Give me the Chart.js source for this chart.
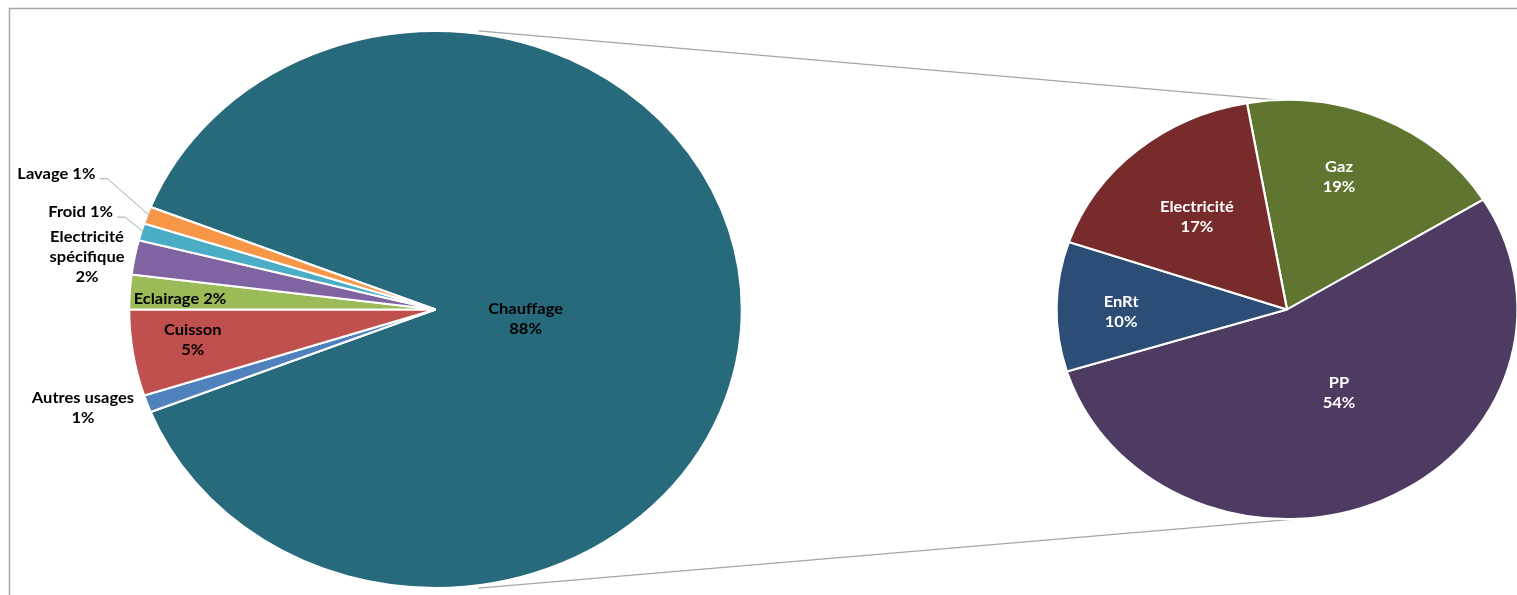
<!DOCTYPE html>
<html>
<head>
<meta charset="utf-8">
<script src="https://cdn.jsdelivr.net/npm/chart.js@4.4.1/dist/chart.umd.min.js"></script>
<style>
  html, body { margin: 0; padding: 0; background: #fff; overflow: hidden; }
  #wrap { position: relative; width: 1517px; height: 595px; overflow: hidden; }
  canvas { position: absolute; top: 0; }
</style>
</head>
<body>
<div id="wrap">
  <canvas id="bg" width="1517" height="595" style="left:0"></canvas>
  <canvas id="usages" width="871" height="595" style="left:0"></canvas>
  <canvas id="energies" width="494" height="595" style="left:1040px"></canvas>
</div>
<script>
// Données du graphique (camembert principal : usages)
const usageLabels = ['Chauffage', 'Autres usages', 'Cuisson', 'Eclairage', 'Electricité spécifique', 'Froid', 'Lavage'];
const usageValues = [88, 1, 5, 2, 2, 1, 1];
const usageColors = ['#276A7B', '#4F81BD', '#C0504D', '#9BBB59', '#8064A2', '#4BACC6', '#F79646'];

// Second camembert : énergies du chauffage
const energyLabels = ['Gaz', 'PP', 'EnRt', 'Electricité'];
const energyValues = [19, 54, 10, 17];
const energyColors = ['#607630', '#4E3B62', '#2C4D75', '#772B2A'];

// L'image d'origine est étirée horizontalement
const STRETCH = 1.1;
const FONT = 'bold 15px Lato, "Open Sans", sans-serif';
const LINE_H = 20;

// Placement des étiquettes : rayon relatif et décalage d'angle (degrés)
const usageLabelLayout = [
  { r: 0.296, da: 6.6, stack: true },
  { r: 1.204, da: 2.7, stack: true },
  { r: 0.80, da: 1.2, stack: true },
  { r: 0.835, da: -1.0, stack: false },
  { r: 1.153, da: -1.4, stack: true, wrap: true },
  { r: 1.21, da: 0.6, stack: false, leader: true },
  { r: 1.33, da: 1.7, stack: false, leader: true }
];
const energyLabelLayout = [
  { r: 0.67, da: -4.5, stack: true },
  { r: 0.46, da: -5.0, stack: true },
  { r: 0.72, da: -1.9, stack: true },
  { r: 0.59, da: -0.9, stack: true }
];

function labelLines(name, pct, lay) {
  const parts = lay.wrap ? name.split(' ') : [name];
  if (lay.stack) return parts.concat([pct]);
  return [parts.join(' ') + ' ' + pct];
}

// Plugin : étire les secteurs en ellipse puis écrit les étiquettes
const ellipsePlugin = {
  id: 'ellipseLabels',
  beforeDatasetsDraw(chart) {
    const el = chart.getDatasetMeta(0).data[0];
    const ctx = chart.ctx;
    ctx.save();
    ctx.translate(el.x, el.y);
    ctx.scale(STRETCH, 1);
    ctx.translate(-el.x, -el.y);
  },
  afterDatasetsDraw(chart, args, opts) {
    const ctx = chart.ctx;
    ctx.restore();
    const meta = chart.getDatasetMeta(0);
    const values = chart.data.datasets[0].data;
    const total = values.reduce((a, b) => a + b, 0);
    ctx.save();
    ctx.font = FONT;
    ctx.textAlign = 'center';
    ctx.textBaseline = 'middle';
    meta.data.forEach((arc, i) => {
      const lay = opts.layout[i];
      const R = arc.outerRadius;
      const mid = (arc.startAngle + arc.endAngle) / 2;
      const a = mid + lay.da * Math.PI / 180;
      const px = arc.x + STRETCH * lay.r * R * Math.cos(a);
      const py = arc.y + lay.r * R * Math.sin(a);
      const pct = Math.round(values[i] / total * 100) + '%';
      const lines = labelLines(chart.data.labels[i], pct, lay);
      ctx.fillStyle = opts.color;
      lines.forEach((line, k) => {
        const ly = py + (k - (lines.length - 1) / 2) * LINE_H;
        ctx.save();
        ctx.translate(px, ly);
        ctx.scale(STRETCH, 1);
        ctx.fillText(line, 0, 0);
        ctx.restore();
      });
      if (lay.leader) {
        const w = ctx.measureText(lines[0]).width * STRETCH;
        const sx = px + w / 2 + 4;
        const sy = py + 5;
        const ex = arc.x + STRETCH * 0.99 * R * Math.cos(mid);
        const ey = arc.y + 0.99 * R * Math.sin(mid);
        ctx.strokeStyle = '#A6A6A6';
        ctx.lineWidth = 1;
        ctx.beginPath();
        ctx.moveTo(sx, sy);
        ctx.lineTo(sx + 8, sy);
        ctx.lineTo(ex, ey);
        ctx.stroke();
      }
    });
    ctx.restore();
  }
};

function pieOptions(rotation, radius, layout, color) {
  return {
    responsive: false,
    animation: false,
    events: [],
    rotation: rotation,
    radius: radius,
    layout: { padding: { top: 24, bottom: 0, left: 0, right: 0 } },
    plugins: {
      legend: { display: false },
      tooltip: { enabled: false },
      ellipseLabels: { layout: layout, color: color }
    }
  };
}

const usageChart = new Chart(document.getElementById('usages').getContext('2d'), {
  type: 'pie',
  data: {
    labels: usageLabels,
    datasets: [{ data: usageValues, backgroundColor: usageColors, borderColor: '#FFFFFF', borderWidth: 2 }]
  },
  options: pieOptions(291.6, 278.5, usageLabelLayout, '#000000'),
  plugins: [ellipsePlugin]
});

const energyChart = new Chart(document.getElementById('energies').getContext('2d'), {
  type: 'pie',
  data: {
    labels: energyLabels,
    datasets: [{ data: energyValues, backgroundColor: energyColors, borderColor: '#FFFFFF', borderWidth: 2 }]
  },
  options: pieOptions(-10, 209.5, energyLabelLayout, '#FFFFFF'),
  plugins: [ellipsePlugin]
});

// Cadre et lignes de liaison entre les deux camemberts
(function drawBackground() {
  const ctx = document.getElementById('bg').getContext('2d');
  const offRight = 1040;
  const l = usageChart.getDatasetMeta(0).data[0];
  const r = energyChart.getDatasetMeta(0).data[0];
  function pt(el, off, deg, k) {
    const a = deg * Math.PI / 180;
    return [off + el.x + STRETCH * k * el.outerRadius * Math.sin(a), el.y - k * el.outerRadius * Math.cos(a)];
  }
  ctx.strokeStyle = '#A6A6A6';
  ctx.lineWidth = 1.5;
  ctx.strokeRect(9.5, 8.5, 1700, 800);

  const lt = pt(l, 0, 8, 1.01), rt = pt(r, offRight, -2, 1.0);
  const lb = pt(l, 0, 172, 1.01), rb = pt(r, offRight, 177.5, 1.0);
  ctx.lineWidth = 1.3;
  ctx.beginPath();
  ctx.moveTo(lt[0], lt[1]);
  ctx.lineTo(rt[0], rt[1]);
  ctx.moveTo(lb[0], lb[1]);
  ctx.lineTo(rb[0], rb[1]);
  ctx.stroke();
})();
</script>
</body>
</html>
